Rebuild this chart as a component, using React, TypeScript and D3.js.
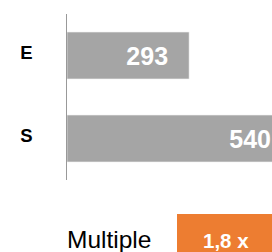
import React from 'react';
import * as d3 from 'd3';

const categories = ['E', 'S'];
const values = [293, 540];
const multipleLabel = 'Multiple';
const multipleValue = '1,8 x';

const W = 272;
const H = 252;

const App: React.FC = () => {
  const x = d3.scaleLinear().domain([0, 540]).range([67, 292]);
  const y = d3.scaleBand<string>()
    .domain(categories)
    .range([14, 180])
    .paddingInner(0.434)
    .paddingOuter(0.217);

  const font = "'Liberation Sans', Arial, sans-serif";

  return (
    <svg
      width={W}
      height={H}
      style={{ position: 'fixed', left: 0, top: 0, background: '#fff' }}
      fontFamily={font}
    >
      {categories.map((c, i) => {
        const y0 = y(c) ?? 0;
        const bw = y.bandwidth();
        return (
          <g key={c}>
            <rect
              x={x(0)}
              y={y0}
              width={x(values[i]) - x(0)}
              height={bw}
              fill="#a5a5a5"
              stroke="#f0f0f0"
              strokeWidth={0.6}
            />
            <text
              x={x(values[i]) - 21}
              y={y0 + bw / 2}
              dy="0.36em"
              textAnchor="end"
              fill="#fff"
              fontWeight="bold"
              fontSize={25}
            >
              {values[i]}
            </text>
            <text
              x={32.5}
              y={y0 + bw / 2 - 3}
              dy="0.36em"
              textAnchor="end"
              fill="#000"
              fontWeight="bold"
              fontSize={18.5}
            >
              {c}
            </text>
          </g>
        );
      })}
      <line x1={66.5} x2={66.5} y1={14} y2={180} stroke="#999" strokeWidth={1} />

      <text x={67} y={248} fontSize={24.5} fill="#000">
        {multipleLabel}
      </text>
      <rect x={177} y={214} width={W - 177} height={H - 214} fill="#ed7d31" />
      <text x={203} y={248} fontSize={20.5} fontWeight="bold" fill="#fff">
        {multipleValue}
      </text>
    </svg>
  );
};

export default App;
